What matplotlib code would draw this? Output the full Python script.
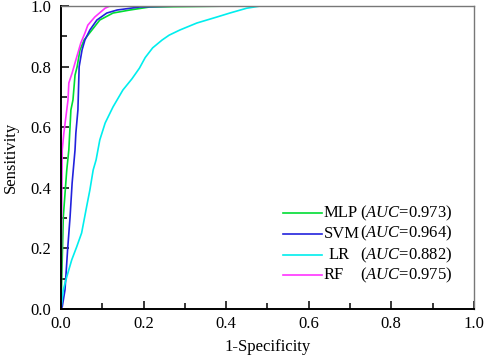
import numpy as np
import matplotlib
matplotlib.use("Agg")
import matplotlib.pyplot as plt
from matplotlib.ticker import MultipleLocator

plt.rcParams['font.family'] = ['Liberation Serif', 'DejaVu Serif']
plt.rcParams['mathtext.fontset'] = 'custom'
plt.rcParams['mathtext.rm'] = 'Liberation Serif'
plt.rcParams['mathtext.it'] = 'Liberation Serif:italic'

## ROC points (1-specificity, sensitivity)
mlp_fpr = [0, 0.0016, 0.0056, 0.014, 0.019, 0.024, 0.029, 0.034, 0.039,
           0.046, 0.056, 0.075, 0.094, 0.126, 0.167, 0.215, 0.41, 1.0]
mlp_tpr = [0, 0.086, 0.304, 0.459, 0.525, 0.657, 0.69, 0.772, 0.799,
           0.855, 0.888, 0.921, 0.954, 0.977, 0.987, 0.997, 1.0, 1.0]

svm_fpr = [0, 0.003, 0.0097, 0.016, 0.022, 0.027, 0.034, 0.036, 0.041, 0.044, 0.051,
           0.058, 0.070, 0.087, 0.111, 0.136, 0.191, 0.281, 1.0]
svm_tpr = [0, 0.007, 0.063, 0.195, 0.304, 0.416, 0.525, 0.58, 0.657, 0.80, 0.855,
           0.888, 0.921, 0.954, 0.977, 0.987, 0.997, 1.0, 1.0]

lr_fpr = [0, 0.0056, 0.014, 0.026, 0.038, 0.050, 0.062, 0.070, 0.078, 0.085, 0.094,
          0.107, 0.126, 0.150, 0.172, 0.190, 0.204, 0.222, 0.245, 0.262, 0.288,
          0.329, 0.378, 0.409, 0.450, 0.482, 1.0]
lr_tpr = [0, 0.063, 0.106, 0.162, 0.205, 0.251, 0.337, 0.393, 0.459, 0.492, 0.558,
          0.614, 0.667, 0.723, 0.760, 0.795, 0.830, 0.862, 0.888, 0.904, 0.921,
          0.944, 0.964, 0.977, 0.993, 1.0, 1.0]

rf_fpr = [0, 0.001, 0.003, 0.007, 0.017, 0.019, 0.027, 0.036, 0.048, 0.058,
          0.065, 0.082, 0.107, 0.118, 1.0]
rf_tpr = [0, 0.195, 0.525, 0.581, 0.69, 0.746, 0.779, 0.822, 0.878, 0.911,
          0.937, 0.964, 0.993, 1.0, 1.0]

models = ['MLP', 'SVM', 'LR', 'RF']
auc = [0.973, 0.964, 0.882, 0.975]
colors = ['#00dd33', '#2222dd', '#00eeee', '#ff33ff']

fig = plt.figure(figsize=(4.84, 3.57), dpi=100)
ax = fig.add_axes([0.126, 0.1345, 0.853, 0.8485])

curves = [(mlp_fpr, mlp_tpr), (svm_fpr, svm_tpr), (lr_fpr, lr_tpr), (rf_fpr, rf_tpr)]
for (fx, ty), c in zip(curves, colors):
    ax.plot(fx, ty, color=c, lw=1.2)

ax.set_xlim(0, 1)
ax.set_ylim(0, 1)
ax.xaxis.set_major_locator(MultipleLocator(0.2))
ax.yaxis.set_major_locator(MultipleLocator(0.2))
ax.xaxis.set_minor_locator(MultipleLocator(0.1))
ax.yaxis.set_minor_locator(MultipleLocator(0.1))
ax.tick_params(which='both', direction='in', top=False, right=False,
               labelsize=12, width=1.1)
ax.tick_params(which='major', length=6)
ax.tick_params(which='minor', length=4)
ax.tick_params(axis='y', pad=7)
ax.tick_params(axis='x', pad=5)
ax.xaxis.set_major_formatter(plt.FuncFormatter(lambda v, p: f"{v:.1f}"))
ax.yaxis.set_major_formatter(plt.FuncFormatter(lambda v, p: f"{v:.1f}"))

for s in ['left', 'bottom']:
    ax.spines[s].set_linewidth(1.4)
for s in ['top', 'right']:
    ax.spines[s].set_color('#777777')
    ax.spines[s].set_linewidth(1.0)

ax.set_xlabel('1-Specificity', fontsize=12, labelpad=5)
ax.set_ylabel('Sensitivity', fontsize=12, labelpad=8)

## hand-made legend
rows_y = [0.317, 0.248, 0.178, 0.112]
name_x = [0.636, 0.636, 0.648, 0.636]
for i in range(len(models)):
    ax.plot([0.5375, 0.632], [rows_y[i], rows_y[i]], color=colors[i], lw=1.2,
            transform=ax.transAxes)
    ax.text(name_x[i], rows_y[i], models[i], transform=ax.transAxes,
            fontsize=12, va='center', ha='left')
    ax.text(0.724, rows_y[i], r"($\mathit{AUC}$=%.3f)" % auc[i],
            transform=ax.transAxes, fontsize=12, va='center', ha='left')

fig.savefig('out.png', dpi=100)
